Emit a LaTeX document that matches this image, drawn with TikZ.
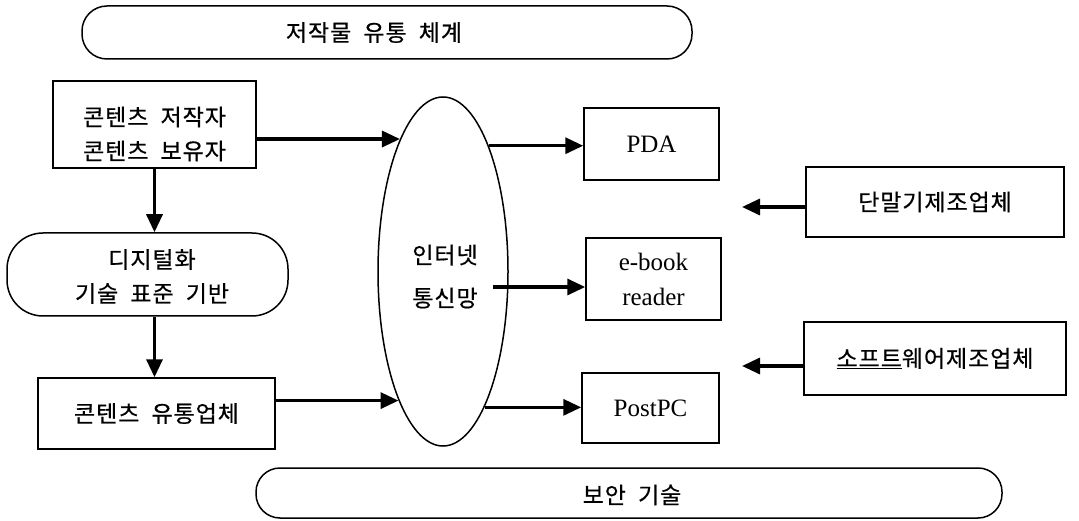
\documentclass[tikz,border=0pt]{standalone}
\usepackage{fontspec}
\setmainfont{Liberation Serif}
\newfontfamily\krf{Noto Sans CJK KR}[LetterSpace=4,FakeBold=0.6,WordSpace=2]
\usetikzlibrary{arrows.meta,shapes.geometric}
\newcommand\kfont{\krf\fontsize{23}{34}\selectfont}
\newcommand\lfont{\rmfamily\fontsize{25}{35}\selectfont}
\begin{document}
\begin{tikzpicture}[x=1pt,y=-1pt,
  box/.style={draw,line width=1.5pt,rectangle,inner sep=0pt,align=center},
  arr/.style={line width=3.3pt,-{Triangle[length=18pt,width=16pt]}},
  lab/.style={font=\kfont,align=center}
]
\useasboundingbox (0,0) rectangle (1079,521);
% top band
\node[box, rounded corners=25pt, minimum width=610pt, minimum height=53pt,
  label={[lab,xshift=-13pt]center:저작물 유통 체계}] (top) at (387,32.5) {};
% left column
\node[box, minimum width=203pt, minimum height=87pt,
  label={[lab,yshift=-9.5pt]center:콘텐츠 저작자\\콘텐츠 보유자}] (src) at (154.5,124.5) {};
\node[box, rounded corners=36pt, minimum width=281pt, minimum height=83pt,
  label={[lab,xshift=4.5pt,yshift=-2pt]center:디지털화\\기술 표준 기반}] (dig) at (147.5,274.5) {};
\node[box, minimum width=237pt, minimum height=71pt, font=\kfont] (dist) at (156.5,413.5) {콘텐츠 유통업체};
% network ellipse
\node[draw, ellipse, line width=1.5pt, minimum width=130pt, minimum height=349pt, inner sep=0pt,
  label={[font=\krf\fontsize{23}{43}\selectfont,align=center,xshift=2pt,yshift=-5pt]center:인터넷\\통신망}] (net) at (443,271.5) {};
% devices
\node[box, minimum width=135pt, minimum height=72pt, font=\lfont] (pda) at (651.5,144) {PDA};
\node[box, minimum width=135pt, minimum height=82pt, font=\lfont] (ebook) at (653.5,279) {e-book\\reader};
\node[box, minimum width=137pt, minimum height=70pt, font=\lfont] (post) at (650.5,408) {PostPC};
% manufacturers
\node[box, minimum width=258pt, minimum height=70pt, font=\kfont] (tm) at (935,202) {단말기제조업체};
\node[box, minimum width=262pt, minimum height=73pt, font=\kfont] (sw) at (935,358.5) {\underline{소프트}웨어제조업체};
% bottom band
\node[box, rounded corners=24pt, minimum width=746pt, minimum height=50pt,
  label={[lab,xshift=3pt,yshift=-2pt]center:보안 기술}] (sec) at (629,493) {};
% connectors
\coordinate (ebin) at (493,287);
\coordinate (tmtip) at (742,207);
\coordinate (swtip) at (742,366);
\draw[arr] (net.108.1 -| src.east) -- (net.108.1);
\draw[arr] (net.251.4 -| dist.east) -- (net.251.4);
\draw[arr] (src.south) -- (src.south |- dig.north);
\draw[arr] (src.south |- dig.south) -- (src.south |- dist.north);
\draw[arr] (net.70.95) -- (net.70.95 -| pda.west);
\draw[arr] (ebin) -- (ebin -| ebook.west);
\draw[arr] (net.287.4) -- (net.287.4 -| post.west);
\draw[arr] (tmtip -| tm.west) -- (tmtip);
\draw[arr] (swtip -| sw.west) -- (swtip);
\end{tikzpicture}
\end{document}
